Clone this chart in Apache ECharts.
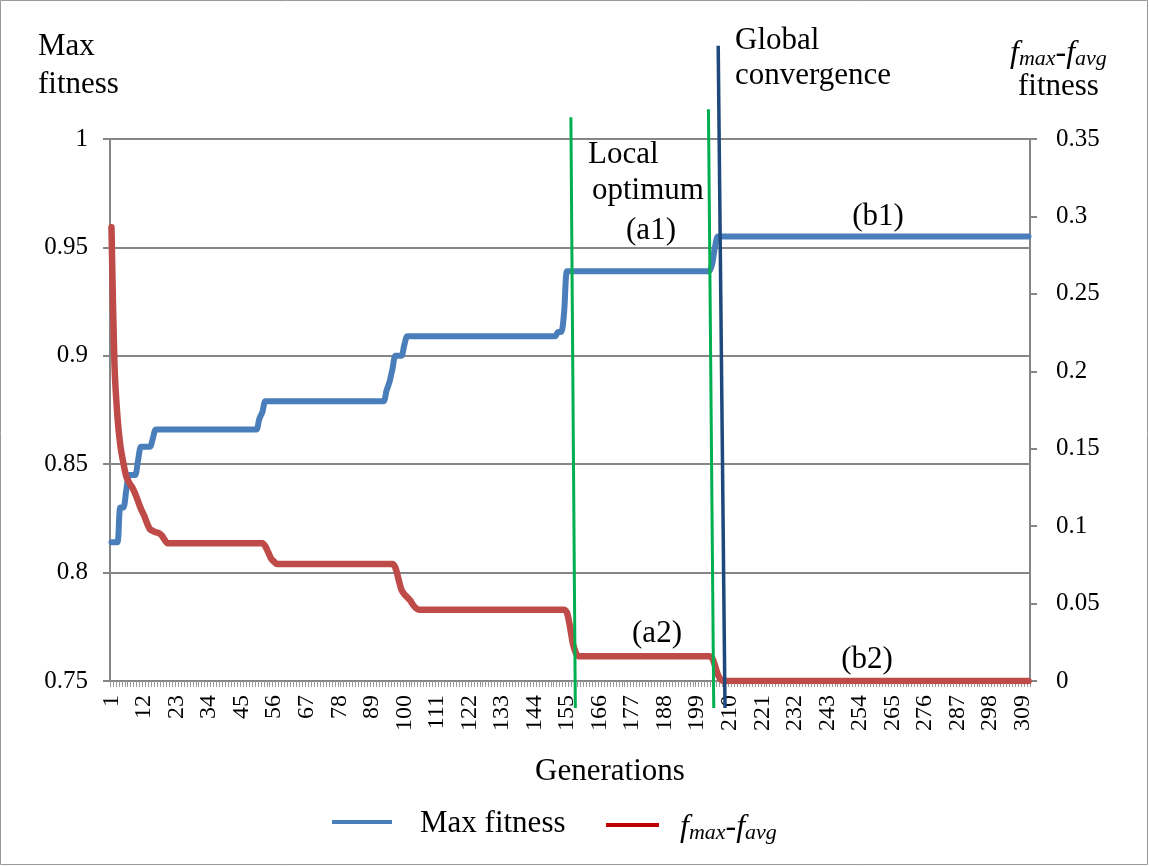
<!DOCTYPE html>
<html>
<head>
<meta charset="utf-8">
<title>Max fitness and fmax-favg over generations</title>
<script src="https://cdn.jsdelivr.net/npm/echarts@6/dist/echarts.min.js"></script>
<style>
  html, body { margin: 0; padding: 0; background: #ffffff; }
  #chart { width: 1149px; height: 866px; }
</style>
</head>
<body>
<div id="chart"></div>
<script>
// ---- data ---------------------------------------------------------------
// Number of generations on the category axis (1 .. 311).
const GENERATION_COUNT = 311;

// Best individual's fitness, stored as [value, number of generations it holds].
const maxFitnessRuns = [
  [0.814, 3], [0.830, 2], [0.838, 1], [0.845, 3], [0.852, 1], [0.858, 4],
  [0.862, 1], [0.866, 35], [0.871, 1], [0.874, 1], [0.879, 41], [0.884, 1],
  [0.888, 1], [0.894, 1], [0.900, 3], [0.905, 1], [0.909, 51], [0.911, 2],
  [0.920, 1], [0.939, 49], [0.942, 1], [0.950, 1], [0.955, 106]
];

// Gap between best and average fitness, same [value, generations] layout.
const spreadRuns = [
  [0.293, 1], [0.205, 1], [0.171, 1], [0.152, 1], [0.141, 1], [0.132, 1],
  [0.128, 1], [0.125, 1], [0.121, 1], [0.116, 1], [0.111, 1], [0.107, 1],
  [0.102, 1], [0.098, 1], [0.097, 1], [0.096, 1], [0.0955, 1], [0.094, 1],
  [0.091, 1], [0.089, 33], [0.087, 1], [0.083, 1], [0.079, 1], [0.077, 1],
  [0.0755, 40], [0.073, 1], [0.066, 1], [0.059, 1], [0.056, 1], [0.054, 1],
  [0.052, 1], [0.049, 1], [0.047, 1], [0.046, 50], [0.044, 1], [0.035, 1],
  [0.024, 1], [0.018, 1], [0.016, 45], [0.015, 1], [0.010, 1], [0.004, 1],
  [0.001, 1], [0, 104]
];

// Axis ranges / steps.
const leftAxisRange = { min: 0.75, max: 1, step: 0.05 };
const rightAxisRange = { min: 0, max: 0.35, step: 0.05 };

// Phase boundaries: [generation, max-fitness value] at the top and bottom ends.
const phaseLines = [
  { from: [156.3, 1.010], to: [157.8, 0.7375], color: '#00B050', width: 3 },
  { from: [202.8, 1.0137], to: [204.6, 0.7375], color: '#00B050', width: 3 },
  { from: [206.1, 1.043], to: [208.4, 0.7375], color: '#1F497D', width: 3.5 }
];

// ---- helpers ------------------------------------------------------------
function expandRuns(runs) {
  const out = [];
  runs.forEach(([value, count]) => {
    for (let i = 0; i < count; i++) out.push(value);
  });
  return out;
}

const generations = [];
for (let g = 1; g <= GENERATION_COUNT; g++) generations.push(String(g));
const maxFitness = expandRuns(maxFitnessRuns);
const spread = expandRuns(spreadRuns);

const SERIF = '"Liberation Serif", "Times New Roman", Times, serif';
const GRID_GREY = '#868686';
const BLUE = '#4A7EBB';
const RED = '#BE4B48';

const chart = echarts.init(document.getElementById('chart'), null, { renderer: 'canvas' });

chart.setOption({
  animation: false,
  backgroundColor: '#ffffff',
  grid: { left: 110, right: 119, top: 139, bottom: 185, containLabel: false },
  xAxis: {
    type: 'category',
    data: generations,
    boundaryGap: true,
    axisLine: { show: true, lineStyle: { color: GRID_GREY, width: 2 } },
    axisTick: { show: true, interval: 0, length: 6, lineStyle: { color: '#9a9a9a', width: 1 } },
    axisLabel: {
      interval: 10, rotate: 90, margin: 14,
      fontFamily: SERIF, fontSize: 24, color: '#000000'
    },
    splitLine: { show: false }
  },
  yAxis: [
    {
      type: 'value', position: 'left',
      min: leftAxisRange.min, max: leftAxisRange.max, interval: leftAxisRange.step,
      axisLine: { show: true, lineStyle: { color: GRID_GREY, width: 2 } },
      axisTick: { show: true, length: 7, lineStyle: { color: GRID_GREY, width: 2 } },
      axisLabel: { margin: 22, fontFamily: SERIF, fontSize: 25, color: '#000000' },
      splitLine: { show: true, lineStyle: { color: GRID_GREY, width: 2 } }
    },
    {
      type: 'value', position: 'right',
      min: rightAxisRange.min, max: rightAxisRange.max, interval: rightAxisRange.step,
      axisLine: { show: true, lineStyle: { color: GRID_GREY, width: 2 } },
      axisTick: { show: true, length: 7, lineStyle: { color: GRID_GREY, width: 2 } },
      axisLabel: { margin: 26, fontFamily: SERIF, fontSize: 25, color: '#000000' },
      splitLine: { show: false }
    }
  ],
  series: [
    {
      name: 'Max fitness', type: 'line', yAxisIndex: 0, data: maxFitness,
      symbol: 'none', smooth: 0.3, z: 3,
      lineStyle: { color: BLUE, width: 6, cap: 'round', join: 'round' },
      itemStyle: { color: BLUE }
    },
    {
      name: 'fmax-favg', type: 'line', yAxisIndex: 1, data: spread,
      symbol: 'none', smooth: 0.3, z: 4,
      lineStyle: { color: RED, width: 6.5, cap: 'round', join: 'round' },
      itemStyle: { color: RED }
    }
  ]
});

// ---- annotations --------------------------------------------------------
function toPixel(gen, value) {
  const a = chart.convertToPixel({ xAxisIndex: 0 }, 0);
  const b = chart.convertToPixel({ xAxisIndex: 0 }, 1);
  return [a + (gen - 1) * (b - a), chart.convertToPixel({ yAxisIndex: 0 }, value)];
}

const richSub = {
  f: { fontFamily: SERIF, fontStyle: 'italic', fontSize: 32, lineHeight: 32, verticalAlign: 'top', fill: '#000' },
  s: { fontFamily: SERIF, fontStyle: 'italic', fontSize: 22, lineHeight: 22, verticalAlign: 'bottom', padding: [14, 0, 0, 0], fill: '#000' },
  d: { fontFamily: SERIF, fontSize: 32, lineHeight: 32, verticalAlign: 'top', fill: '#000' }
};
const SPREAD_LABEL = '{f|f}{s|max}{d|-}{f|f}{s|avg}';

function label(text, x, y, align, size) {
  return {
    type: 'text', z: 50, silent: true,
    style: {
      text: text, x: x, y: y, align: align || 'left', verticalAlign: 'middle',
      fontFamily: SERIF, fontSize: size || 31, fill: '#000000'
    }
  };
}

const graphics = [];

// frame around the whole figure
graphics.push({
  type: 'rect', z: 60, silent: true,
  shape: { x: 0.5, y: 0.5, width: 1147, height: 864 },
  style: { fill: null, stroke: '#9a9a9a', lineWidth: 1 }
});

// phase boundary lines
phaseLines.forEach(l => {
  const p1 = toPixel(l.from[0], l.from[1]);
  const p2 = toPixel(l.to[0], l.to[1]);
  graphics.push({
    type: 'line', z: 40, silent: true,
    shape: { x1: p1[0], y1: p1[1], x2: p2[0], y2: p2[1] },
    style: { stroke: l.color, lineWidth: l.width }
  });
});

// axis titles
graphics.push(label('Max', 38, 47));
graphics.push(label('fitness', 38, 85));
graphics.push({
  type: 'text', z: 50, silent: true,
  style: { text: SPREAD_LABEL, rich: richSub, x: 1010, y: 54, align: 'left', verticalAlign: 'middle' }
});
graphics.push(label('fitness', 1018, 87));
graphics.push(label('Generations', 610, 772, 'center'));

// phase annotations
graphics.push(label('Global', 735, 41));
graphics.push(label('convergence', 735, 76));
graphics.push(label('Local', 588, 155));
graphics.push(label('optimum', 592, 191));
graphics.push(label('(a1)', 651, 231, 'center'));
graphics.push(label('(b1)', 878, 217, 'center'));
graphics.push(label('(a2)', 657, 634, 'center'));
graphics.push(label('(b2)', 867, 660, 'center'));

// legend
graphics.push({
  type: 'line', z: 50, silent: true,
  shape: { x1: 332, y1: 822, x2: 392, y2: 822 },
  style: { stroke: BLUE, lineWidth: 4 }
});
graphics.push(label('Max fitness', 420, 824));
graphics.push({
  type: 'line', z: 50, silent: true,
  shape: { x1: 606, y1: 825, x2: 659, y2: 825 },
  style: { stroke: '#C00000', lineWidth: 4 }
});
graphics.push({
  type: 'text', z: 50, silent: true,
  style: { text: SPREAD_LABEL, rich: richSub, x: 680, y: 828, align: 'left', verticalAlign: 'middle' }
});

chart.setOption({ graphic: graphics });
</script>
</body>
</html>
